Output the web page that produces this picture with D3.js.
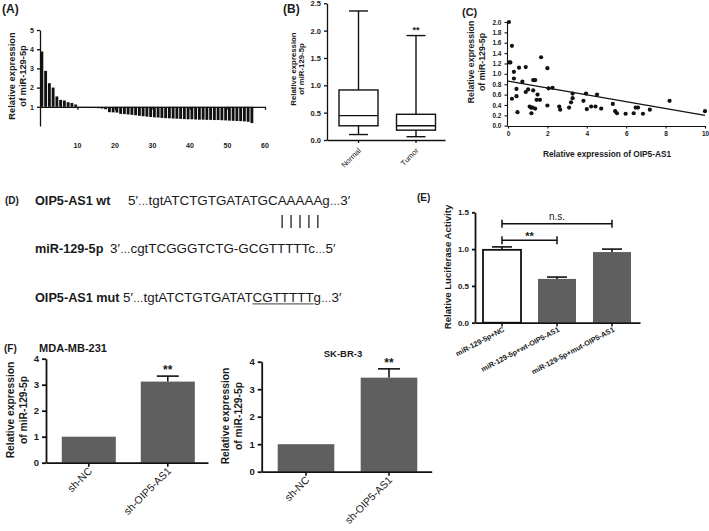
<!DOCTYPE html>
<html><head><meta charset="utf-8">
<script src="https://cdn.jsdelivr.net/npm/d3@7"></script>
<style>
body{margin:0;background:#fff}
svg{display:block}
text{font-family:"Liberation Sans",Arial,Helvetica,sans-serif;fill:#1a1a1a}
</style>
</head><body>
<svg id="c" width="709" height="531"></svg>
<script>
// ---------- DATA ----------
// (A) waterfall of relative expression per sample
const aValues = [3.88,2.87,2.23,2.0,1.54,1.36,1.33,1.24,1.2,1.12,
  0.99,0.98,0.97,0.96,0.94,0.93,0.91,0.87,0.72,0.71,0.70,0.63,0.62,0.60,0.58,0.56,
  0.53,0.51,0.49,0.47,0.45,0.44,0.42,0.41,0.40,0.39,0.38,0.37,0.36,0.35,0.35,0.34,
  0.33,0.33,0.32,0.32,0.31,0.31,0.30,0.29,0.28,0.27,0.26,0.25,0.24,0.22,0.15];
const aXTicks = [10,20,30,40,50,60];
const aYTicks = [1,2,3,4,5];

// (B) box plot
const bGroups = ["Normal","Tumor"];
const bMin = [0.10,0.06];
const bQ1 = [0.26,0.18];
const bMedian = [0.445,0.26];
const bQ3 = [0.915,0.47];
const bMax = [2.36,1.91];
const bYTicks = [0,0.5,1.0,1.5,2.0,2.5];

// (C) scatter
const cX = [0.05,0.05,0.12,0.2,0.3,0.3,0.2,0.43,0.43,0.48,0.56,0.73,0.9,0.9,1.02,1.1,1.16,1.24,1.19,1.28,1.28,1.38,1.38,1.5,1.45,1.62,1.68,2.0,2.0,2.06,2.26,2.6,2.65,3.1,3.2,3.28,3.28,3.83,3.96,4.0,4.22,4.44,4.52,4.73,5.32,5.44,5.53,5.97,6.38,6.48,6.6,6.85,7.2,8.2,10.0];
const cY = [2.0,1.22,1.22,1.54,1.04,0.91,0.52,0.71,0.57,0.26,1.12,0.85,1.13,0.65,0.70,0.37,0.35,0.35,0.24,0.68,0.88,0.88,0.33,0.60,0.50,0.50,1.32,1.11,0.39,0.72,0.73,0.37,0.31,0.35,0.45,0.53,0.62,0.48,0.62,0.32,0.37,0.37,0.60,0.33,0.42,0.28,0.24,0.23,0.24,0.35,0.35,0.23,0.31,0.48,0.28];
const cFitX = [0,10];
const cFitY = [0.86,0.20];
const cXTicks = [0,2,4,6,8,10];
const cYTicks = [0,0.2,0.4,0.6,0.8,1.0,1.2,1.4,1.6,1.8,2.0];

// (D) sequences: [start end, core, finish end]
const dNames = ["OIP5-AS1 wt","miR-129-5p","OIP5-AS1 mut"];
const dStart = ["5\u2032","3\u2032","5\u2032"];
const dCore = ["tgtATCTGTGATATGCAAAAAg","cgtTCGGGTCTG-GCGTTTTTc","tgtATCTGTGATATCGTTTTTg"];
const dEnd = ["3\u2032","5\u2032","3\u2032"];
const dPairChars = [19,20,21,22,23];
const dMutRange = [17,23];

// (E) luciferase
const eGroups = ["miR-129-5p+NC","miR-129-5p+wt-OIP5-AS1","miR-129-5p+mut-OIP5-AS1"];
const eValues = [0.99,0.595,0.96];
const eErr = [0.04,0.025,0.04];
const eYTicks = [0,0.5,1.0,1.5];

// (F) knockdown
const fGroups = ["sh-NC","sh-OIP5-AS1"];
const fMdaValues = [1.0,3.12];
const fMdaErr = [0,0.21];
const fSkValues = [1.0,3.42];
const fSkErr = [0,0.32];
const fYTicks = [0,1,2,3,4];

// ---------- DRAW ----------
const svg = d3.select("#c");
function txt(g,x,y,s,size,weight,anchor,rot){
  const t=g.append("text").attr("x",0).attr("y",0)
    .attr("transform",`translate(${x},${y})`+(rot?` rotate(${rot})`:""))
    .attr("font-size",size).attr("font-weight",weight||"normal")
    .attr("text-anchor",anchor||"start").text(s);
  return t;
}
function styleAxis(sel,size,sw){
  sel.selectAll("path,line").attr("stroke","#111").attr("stroke-width",sw||1.3);
  sel.selectAll("text").attr("font-size",size).attr("font-weight","bold").attr("fill","#1a1a1a");
}
function ylab(g,x1,x2,y,size,weight,l1,l2){
  txt(g,x1,y,l1,size,weight,"middle",-90);
  if(l2) txt(g,x2,y,l2,size,weight,"middle",-90);
}

// Panel labels
txt(svg,2,13,"(A)",12,"bold");
txt(svg,283,13,"(B)",12,"bold");
txt(svg,462,16,"(C)",11,"bold");
txt(svg,5,204,"(D)",10,"bold");
txt(svg,417,201,"(E)",10,"bold");
txt(svg,4,352,"(F)",10,"bold");

// ----- A -----
{
  const g=svg.append("g");
  const x=d3.scaleLinear().domain([0,60]).range([40,265]);
  const y=d3.scaleLinear().domain([0,5]).range([126,30]);
  g.selectAll("rect").data(aValues).join("rect")
    .attr("x",(d,i)=>x(i)+0.45).attr("width",(d,i)=>x(i+1)-x(i)-0.9)
    .attr("y",d=>y(Math.max(d,1))).attr("height",d=>Math.abs(y(d)-y(1)))
    .attr("fill","#111");
  const ya=g.append("g").attr("transform","translate(40,0)")
    .call(d3.axisLeft(y).tickValues(aYTicks).tickSize(3).tickSizeOuter(0).tickFormat(d3.format("d")));
  styleAxis(ya,7);
  const xa=g.append("g").attr("transform",`translate(0,${y(1)})`)
    .call(d3.axisBottom(x).tickValues(aXTicks).tickSize(3).tickSizeOuter(0).tickFormat(""));
  styleAxis(xa,7);
  g.selectAll("text.xl").data(aXTicks).join("text").attr("class","xl")
    .attr("x",d=>x(d)).attr("y",148).attr("text-anchor","middle")
    .attr("font-size",7).attr("font-weight","bold").text(d=>d);
  ylab(g,15,26,76,9.3,"bold","Relative expression","of miR-129-5p");
}

// ----- B -----
{
  const g=svg.append("g");
  const y=d3.scaleLinear().domain([0,2.5]).range([140,3.3]);
  const x=d3.scalePoint().domain(bGroups).range([358.5,416]);
  const hw=19.5, cw=9.5;
  const data=bGroups.map((k,i)=>({k,min:bMin[i],q1:bQ1[i],med:bMedian[i],q3:bQ3[i],max:bMax[i]}));
  const bx=g.selectAll("g.box").data(data).join("g").attr("class","box")
    .attr("stroke","#111").attr("stroke-width",1.4).attr("fill","none");
  bx.append("line").attr("x1",d=>x(d.k)).attr("x2",d=>x(d.k)).attr("y1",d=>y(d.max)).attr("y2",d=>y(d.q3));
  bx.append("line").attr("x1",d=>x(d.k)).attr("x2",d=>x(d.k)).attr("y1",d=>y(d.q1)).attr("y2",d=>y(d.min));
  bx.append("line").attr("x1",d=>x(d.k)-cw).attr("x2",d=>x(d.k)+cw).attr("y1",d=>y(d.max)).attr("y2",d=>y(d.max));
  bx.append("line").attr("x1",d=>x(d.k)-cw).attr("x2",d=>x(d.k)+cw).attr("y1",d=>y(d.min)).attr("y2",d=>y(d.min));
  bx.append("rect").attr("x",d=>x(d.k)-hw).attr("width",2*hw).attr("y",d=>y(d.q3)).attr("height",d=>y(d.q1)-y(d.q3));
  bx.append("line").attr("x1",d=>x(d.k)-hw).attr("x2",d=>x(d.k)+hw).attr("y1",d=>y(d.med)).attr("y2",d=>y(d.med));
  const ya=g.append("g").attr("transform","translate(327,0)")
    .call(d3.axisLeft(y).tickValues(bYTicks).tickSize(3).tickSizeOuter(0).tickFormat(d3.format(".1f")));
  styleAxis(ya,7.5);
  const xs=d3.scaleLinear().domain([0,1]).range([327,445]);
  const xa=g.append("g").attr("transform","translate(0,140)")
    .call(d3.axisBottom(xs).tickValues([]).tickSizeOuter(0));
  styleAxis(xa,7.5);
  g.selectAll("line.xt").data(bGroups).join("line").attr("class","xt")
    .attr("x1",d=>x(d)).attr("x2",d=>x(d)).attr("y1",140).attr("y2",143).attr("stroke","#111").attr("stroke-width",1.3);
  bGroups.forEach(k=>txt(g,x(k)+3,151,k,7.5,"normal","end",-45));
  txt(g,x("Tumor"),33,"**",9,"bold","middle");
  ylab(g,296,304,69,7.8,"bold","Relative expression","of miR-129-5p");
}

// ----- C -----
{
  const g=svg.append("g");
  const x=d3.scaleLinear().domain([0,10]).range([508,705]);
  const y=d3.scaleLinear().domain([0,2]).range([125.7,22]);
  const ya=g.append("g").attr("transform","translate(507,0)")
    .call(d3.axisLeft(y).tickValues(cYTicks).tickSize(2.5).tickSizeOuter(0).tickFormat(d3.format(".1f")));
  styleAxis(ya,6.5,1.1);
  const xa=g.append("g").attr("transform","translate(0,126)")
    .call(d3.axisBottom(d3.scaleLinear().domain([-0.05,10]).range([507,705])).tickValues(cXTicks).tickSize(2.5).tickSizeOuter(0).tickFormat(d3.format("d")));
  styleAxis(xa,6.5,1.1);
  g.append("line").attr("x1",x(cFitX[0])).attr("x2",x(cFitX[1])).attr("y1",y(cFitY[0])).attr("y2",y(cFitY[1]))
    .attr("stroke","#111").attr("stroke-width",1.2);
  g.selectAll("circle").data(cX).join("circle").attr("cx",d=>x(d)).attr("cy",(d,i)=>y(cY[i])).attr("r",2.1).attr("fill","#111");
  txt(g,607,157,"Relative expression of OIP5-AS1",8.3,"bold","middle");
  ylab(g,474,485,62,8.8,"bold","Relative expression","of miR-129-5p");
}

// ----- D -----
{
  const g=svg.append("g");
  const ly=[205,253,302], sx=[128,110,123];
  dNames.forEach((n,i)=>txt(g,35,ly[i],n,12.7,"bold"));
  const seqs=dCore.map((c,i)=>{
    const t=g.append("text").attr("x",sx[i]).attr("y",ly[i]).attr("font-size",13.4);
    t.append("tspan").text(dStart[i]);
    t.append("tspan").attr("font-size",10.5).text("\u2026");
    t.append("tspan").text(c);
    t.append("tspan").attr("font-size",10.5).text("\u2026");
    t.append("tspan").text(dEnd[i]);
    return t.node();
  });
  const wt=seqs[0];
  dPairChars.forEach(ci=>{
    const s=wt.getStartPositionOfChar(ci), e=wt.getEndPositionOfChar(ci); const cx=(s.x+e.x)/2;
    g.append("line").attr("x1",cx).attr("x2",cx).attr("y1",215).attr("y2",228).attr("stroke","#222").attr("stroke-width",1.3);
  });
  const mt=seqs[2];
  const s0=mt.getStartPositionOfChar(dMutRange[0]), e1=mt.getEndPositionOfChar(dMutRange[1]);
  g.append("line").attr("x1",s0.x).attr("x2",e1.x).attr("y1",ly[2]+1.8).attr("y2",ly[2]+1.8)
    .attr("stroke","#666").attr("stroke-width",1.2);
}

// ----- E -----
{
  const g=svg.append("g");
  const y=d3.scaleLinear().domain([0,1.5]).range([322.7,212.3]);
  const x=d3.scaleBand().domain(eGroups).range([475,639]).paddingInner(0.309).paddingOuter(0.1455);
  g.selectAll("line.err").data(eGroups).join("line").attr("class","err")
    .attr("x1",d=>x(d)+x.bandwidth()/2).attr("x2",d=>x(d)+x.bandwidth()/2)
    .attr("y1",(d,i)=>y(eValues[i])).attr("y2",(d,i)=>y(eValues[i]+eErr[i])).attr("stroke","#111").attr("stroke-width",1.6);
  g.selectAll("line.cap").data(eGroups).join("line").attr("class","cap")
    .attr("x1",d=>x(d)+x.bandwidth()/2-10).attr("x2",d=>x(d)+x.bandwidth()/2+10)
    .attr("y1",(d,i)=>y(eValues[i]+eErr[i])).attr("y2",(d,i)=>y(eValues[i]+eErr[i])).attr("stroke","#111").attr("stroke-width",1.6);
  g.selectAll("rect").data(eGroups).join("rect")
    .attr("x",d=>x(d)).attr("width",x.bandwidth())
    .attr("y",(d,i)=>y(eValues[i])).attr("height",(d,i)=>y(0)-y(eValues[i]))
    .attr("fill",(d,i)=>i===0?"#fff":"#5f5f5f").attr("stroke",(d,i)=>i===0?"#111":"#5f5f5f").attr("stroke-width",(d,i)=>i===0?1.8:0);
  const ya=g.append("g").attr("transform","translate(475,0)")
    .call(d3.axisLeft(y).tickValues(eYTicks).tickSize(3).tickSizeOuter(0).tickFormat(d3.format(".1f")));
  styleAxis(ya,8,1.8);
  const xa=g.append("g").attr("transform","translate(0,322.7)")
    .call(d3.axisBottom(d3.scaleLinear().range([475,640])).tickValues([]).tickSizeOuter(0));
  styleAxis(xa,8,1.8);
  eGroups.forEach(k=>{
    const cx=x(k)+x.bandwidth()/2;
    g.append("line").attr("x1",cx).attr("x2",cx).attr("y1",322.7).attr("y2",326.5).attr("stroke","#111").attr("stroke-width",1.5);
    txt(g,cx+3,331,k,7.3,"bold","end",-28);
  });
  function bracket(a,b,v,lab,size,weight,dy){
    const x1=x(a)+x.bandwidth()/2, x2=x(b)+x.bandwidth()/2, yy=y(v);
    g.append("line").attr("x1",x1).attr("x2",x2).attr("y1",yy).attr("y2",yy).attr("stroke","#111").attr("stroke-width",1.5);
    [x1,x2].forEach(xx=>g.append("line").attr("x1",xx).attr("x2",xx).attr("y1",yy-4).attr("y2",yy+4).attr("stroke","#111").attr("stroke-width",1.5));
    txt(g,(x1+x2)/2,yy+dy,lab,size,weight,"middle");
  }
  bracket(eGroups[0],eGroups[1],1.12,"**",11,"bold",0);
  bracket(eGroups[0],eGroups[2],1.345,"n.s.",10,"normal",-4);
  txt(g,451,267,"Relative Luciferase Activity",9.6,"bold","middle",-90);
}

// ----- F -----
function fPanel(r0,r1,po,pi,y0,upp,axEnd,vals,errs,title,tx,ty,tsize,ylx1,ylx2,yly){
  const g=svg.append("g");
  const y=d3.scaleLinear().domain([0,4]).range([y0,y0-4*upp]);
  const x=d3.scaleBand().domain(fGroups).range([r0,r1]).paddingInner(pi).paddingOuter(po);
  g.selectAll("line.err").data(fGroups).join("line").attr("class","err")
    .attr("x1",d=>x(d)+x.bandwidth()/2).attr("x2",d=>x(d)+x.bandwidth()/2)
    .attr("y1",(d,i)=>y(vals[i])).attr("y2",(d,i)=>y(vals[i]+errs[i])).attr("stroke","#111").attr("stroke-width",1.6);
  g.selectAll("line.cap").data(fGroups).join("line").attr("class","cap")
    .attr("x1",d=>x(d)+x.bandwidth()/2-11).attr("x2",d=>x(d)+x.bandwidth()/2+11)
    .attr("y1",(d,i)=>y(vals[i]+errs[i])).attr("y2",(d,i)=>y(vals[i]+errs[i]))
    .attr("stroke","#111").attr("stroke-width",(d,i)=>errs[i]>0?1.6:0);
  g.selectAll("rect").data(fGroups).join("rect")
    .attr("x",d=>x(d)).attr("width",x.bandwidth())
    .attr("y",(d,i)=>y(vals[i])).attr("height",(d,i)=>y(0)-y(vals[i])).attr("fill","#5f5f5f");
  const ya=g.append("g").attr("transform",`translate(${r0},0)`)
    .call(d3.axisLeft(y).tickValues(fYTicks).tickSize(4).tickSizeOuter(0).tickFormat(d3.format("d")));
  styleAxis(ya,9.5,1.8);
  const xa=g.append("g").attr("transform",`translate(0,${y0})`)
    .call(d3.axisBottom(d3.scaleLinear().range([r0,axEnd])).tickValues([]).tickSizeOuter(0));
  styleAxis(xa,9.5,1.8);
  fGroups.forEach(k=>{
    const cx=x(k)+x.bandwidth()/2;
    g.append("line").attr("x1",cx).attr("x2",cx).attr("y1",y0).attr("y2",y0+4).attr("stroke","#111").attr("stroke-width",1.6);
    txt(g,cx+4,y0+9,k,10.5,"normal","end",-45);
  });
  const k=fGroups[1];
  txt(g,x(k)+x.bandwidth()/2,y(vals[1]+errs[1])-2,"**",12,"bold","middle");
  txt(svg,tx,ty,title,tsize,"bold","middle");
  ylab(g,ylx1,ylx2,yly,10.3,"bold","Relative expression","of miR-129-5p");
}
fPanel(46,210.6,0.2,0.316,462.7,26,208,fMdaValues,fMdaErr,"MDA-MB-231",73,352,11,14,27,410);
fPanel(261.7,433.3,0.193,0.318,471.7,27.5,431.7,fSkValues,fSkErr,"SK-BR-3",343,357,9.5,229,242,416);
</script>
</body></html>
